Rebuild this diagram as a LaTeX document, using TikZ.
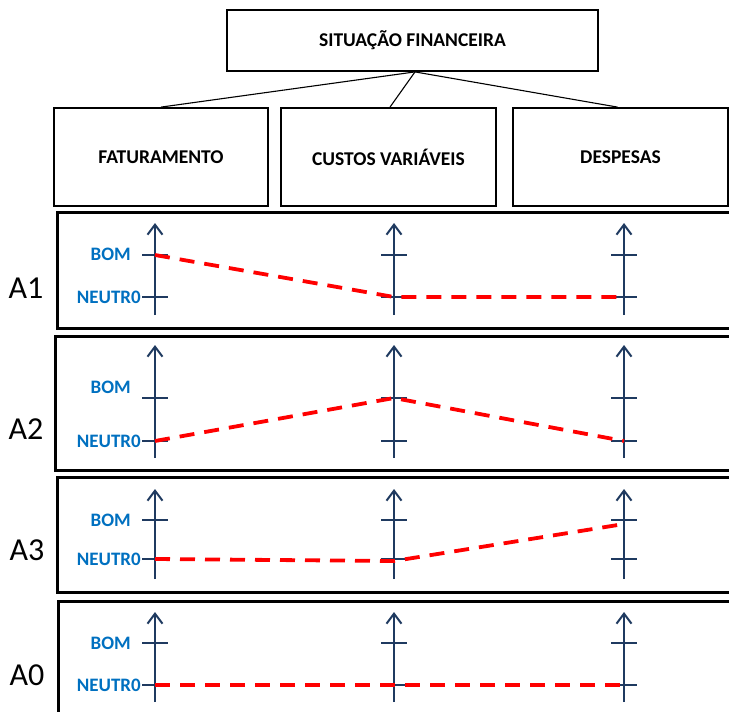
\documentclass[tikz,border=0pt]{standalone}
\usepackage{fontspec}
\setmainfont{Carlito}
\usetikzlibrary{arrows.meta,calc}
\definecolor{axisnavy}{HTML}{1F3A60}
\definecolor{lblblue}{HTML}{0070C0}
\definecolor{trendred}{HTML}{FF0000}
\tikzset{
  box/.style={draw, line width=1.8pt, rectangle, inner sep=0pt,
    font=\fontsize{19.5}{22}\selectfont\bfseries},
  link/.style={line width=1.1pt},
  panel/.style={draw, line width=3pt},
  axisline/.style={draw=axisnavy, line width=2.2pt},
  axisarrow/.style={axisline, -{Straight Barb[length=10pt,width=15pt,line width=2pt]}},
  trend/.style={draw=trendred, line width=3.8pt, dash pattern=on 15pt off 10pt},
  level/.style={text=lblblue, font=\fontsize{19}{21}\selectfont\bfseries, inner sep=0pt, anchor=east},
  rowname/.style={font=\fontsize{32}{35}\selectfont, inner sep=0pt}
}
\begin{document}
\begin{tikzpicture}[x=1pt,y=-1pt]
\useasboundingbox (0,0) rectangle (729,712);
\clip (0,0) rectangle (729,712);

% hierarchy
\node[box, minimum width=371pt, minimum height=61pt] (sit) at (412.5,40.5) {SITUAÇÃO FINANCEIRA};
\node[box, minimum width=214pt, minimum height=98pt] (fat) at (161,157) {FATURAMENTO};
\node[box, minimum width=215pt, minimum height=98pt] (cus) at (388.5,157) {CUSTOS VARIÁVEIS};
\node[box, minimum width=215pt, minimum height=98pt] (des) at (620.5,157) {DESPESAS};
\coordinate (hub) at ($(sit.south)+(2.5,0)$);
\draw[link] (hub) -- (fat.north);
\draw[link] (hub) -- ($(cus.north)+(1.5,0)$);
\draw[link] (hub) -- ($(des.north)+(-3,0)$);

% scenario panels
\draw[panel] (57,212) rectangle (745,328);
\draw[panel] (55,336) rectangle (745,470);
\draw[panel] (57,477) rectangle (745,592);
\draw[panel] (58,601) rectangle (745,740);

\node[rowname] (r1) at (26,288) {A1};
\node[rowname] (r2) at (26,429) {A2};
\node[rowname] (r3) at (27,550) {A3};
\node[rowname] (r0) at (27,675) {A0};

% axes with BOM / NEUTRO ticks
\foreach \p/\ytop/\ybom/\yneu/\ybot/\ylbl in
  {1/223/255/297/315/254, 2/345/398/441/458/387, 3/489/520/559/579/520, 0/612/643/685/702/643} {
  \foreach \c/\x in {a/155, b/394, c/624} {
    \draw[axisarrow] (\x,\ybot) -- (\x,\ytop);
    \draw[axisline] (\x-13,\ybom) -- (\x+13,\ybom);
    \draw[axisline] (\x-13,\yneu) -- (\x+13,\yneu);
    \coordinate (b\p\c) at (\x,\ybom);
    \coordinate (n\p\c) at (\x,\yneu);
  }
  \node[level] (bom\p) at (131,\ylbl) {BOM};
  \node[level] (neu\p) at (141,\yneu) {NEUTR0};
}

% scenario profiles
\draw[trend] (b1a) -- (n1b) -- (n1c);
\draw[trend] (n2a) -- (b2b) -- (n2c);
\draw[trend] (n3a) -- ($(n3b)+(0,2)$) -- ($(b3c)+(0,4)$);
\draw[trend] (n0a) -- (n0c);
\end{tikzpicture}
\end{document}
